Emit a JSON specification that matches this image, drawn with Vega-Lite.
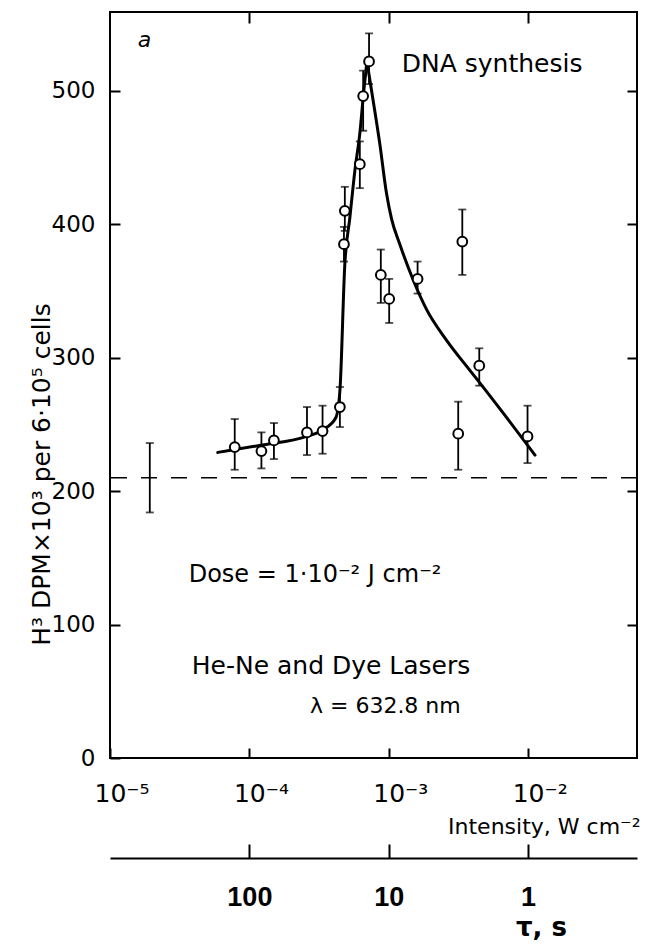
{
  "$schema": "https://vega.github.io/schema/vega-lite/v6.json",
  "width": 527,
  "height": 746,
  "autosize": "none",
  "padding": {"left": 110, "top": 12, "right": 17, "bottom": 189},
  "background": "white",
  "config": {
    "view": {"stroke": "black", "strokeWidth": 2},
    "font": "DejaVu Sans"
  },
  "datasets": {
    "pts": [
      {"I": 0.0000193, "v": 210, "lo": 184, "hi": 236, "kind": "control"},
      {"I": 0.0000785, "v": 233, "lo": 216, "hi": 254, "kind": "sample"},
      {"I": 0.000122, "v": 230, "lo": 217, "hi": 244, "kind": "sample"},
      {"I": 0.00015, "v": 238, "lo": 224, "hi": 251, "kind": "sample"},
      {"I": 0.000259, "v": 244, "lo": 227, "hi": 263, "kind": "sample"},
      {"I": 0.000335, "v": 245, "lo": 228, "hi": 264, "kind": "sample"},
      {"I": 0.000446, "v": 263, "lo": 248, "hi": 278, "kind": "sample"},
      {"I": 0.000484, "v": 410, "lo": 395, "hi": 428, "kind": "sample"},
      {"I": 0.000477, "v": 385, "lo": 372, "hi": 398, "kind": "sample"},
      {"I": 0.00062, "v": 445, "lo": 427, "hi": 462, "kind": "sample"},
      {"I": 0.000655, "v": 496, "lo": 470, "hi": 515, "kind": "sample"},
      {"I": 0.000722, "v": 522, "lo": 505, "hi": 543, "kind": "sample"},
      {"I": 0.000877, "v": 362, "lo": 341, "hi": 381, "kind": "sample"},
      {"I": 0.001007, "v": 344, "lo": 326, "hi": 359, "kind": "sample"},
      {"I": 0.00161, "v": 359, "lo": 348, "hi": 372, "kind": "sample"},
      {"I": 0.00337, "v": 387, "lo": 362, "hi": 411, "kind": "sample"},
      {"I": 0.00446, "v": 294, "lo": 279, "hi": 307, "kind": "sample"},
      {"I": 0.00315, "v": 243, "lo": 216, "hi": 267, "kind": "sample"},
      {"I": 0.0099, "v": 241, "lo": 221, "hi": 264, "kind": "sample"}
    ],
    "curve": [
      {"I": 0.0000593, "v": 229, "seg": "rise"},
      {"I": 0.000123, "v": 234.5, "seg": "rise"},
      {"I": 0.000258, "v": 241, "seg": "rise"},
      {"I": 0.000337, "v": 246, "seg": "rise"},
      {"I": 0.000417, "v": 255, "seg": "rise"},
      {"I": 0.000446, "v": 275, "seg": "rise"},
      {"I": 0.000484, "v": 370, "seg": "rise"},
      {"I": 0.000526, "v": 405, "seg": "rise"},
      {"I": 0.000571, "v": 440, "seg": "rise"},
      {"I": 0.00062, "v": 468, "seg": "rise"},
      {"I": 0.000662, "v": 500, "seg": "rise"},
      {"I": 0.000697, "v": 522, "seg": "rise"},
      {"I": 0.000697, "v": 522, "seg": "fall"},
      {"I": 0.000753, "v": 500, "seg": "fall"},
      {"I": 0.000863, "v": 460, "seg": "fall"},
      {"I": 0.000964, "v": 423, "seg": "fall"},
      {"I": 0.001047, "v": 404, "seg": "fall"},
      {"I": 0.0012, "v": 385, "seg": "fall"},
      {"I": 0.0015, "v": 358, "seg": "fall"},
      {"I": 0.00187, "v": 336, "seg": "fall"},
      {"I": 0.0026, "v": 313, "seg": "fall"},
      {"I": 0.00382, "v": 290.5, "seg": "fall"},
      {"I": 0.00504, "v": 274.5, "seg": "fall"},
      {"I": 0.00702, "v": 255, "seg": "fall"},
      {"I": 0.0112, "v": 227, "seg": "fall"}
    ],
    "one": [{}]
  },
  "layer": [
    {
      "data": {"name": "one"},
      "mark": {"type": "rule", "strokeDash": [16, 14], "strokeWidth": 1.5, "color": "black"},
      "encoding": {
        "y": {"datum": 210, "type": "quantitative", "scale": {"domain": [0, 559], "nice": false, "zero": false}, "axis": null}
      }
    },
    {
      "data": {"name": "curve"},
      "mark": {"type": "line", "color": "black", "strokeWidth": 3, "strokeCap": "round", "strokeJoin": "round", "interpolate": "monotone"},
      "encoding": {
        "x": {"field": "I", "type": "quantitative", "scale": {"type": "log", "domain": [0.00001, 0.0604], "nice": false}, "axis": null},
        "y": {"field": "v", "type": "quantitative", "scale": {"domain": [0, 559], "nice": false, "zero": false}, "axis": null},
        "detail": {"field": "seg", "type": "nominal"}
      }
    },
    {
      "data": {"name": "pts"},
      "mark": {"type": "rule", "color": "black", "strokeWidth": 1.8},
      "encoding": {
        "x": {"field": "I", "type": "quantitative", "scale": {"type": "log", "domain": [0.00001, 0.0604], "nice": false}, "axis": null},
        "y": {"field": "lo", "type": "quantitative", "scale": {"domain": [0, 559], "nice": false, "zero": false}, "axis": null},
        "y2": {"field": "hi"}
      }
    },
    {
      "data": {"name": "pts"},
      "mark": {"type": "tick", "orient": "horizontal", "color": "black", "size": 8, "thickness": 1.8},
      "encoding": {
        "x": {"field": "I", "type": "quantitative", "scale": {"type": "log", "domain": [0.00001, 0.0604], "nice": false}, "axis": null},
        "y": {"field": "hi", "type": "quantitative", "scale": {"domain": [0, 559], "nice": false, "zero": false}, "axis": null}
      }
    },
    {
      "data": {"name": "pts"},
      "mark": {"type": "tick", "orient": "horizontal", "color": "black", "size": 8, "thickness": 1.8},
      "encoding": {
        "x": {"field": "I", "type": "quantitative", "scale": {"type": "log", "domain": [0.00001, 0.0604], "nice": false}, "axis": null},
        "y": {"field": "lo", "type": "quantitative", "scale": {"domain": [0, 559], "nice": false, "zero": false}, "axis": null}
      }
    },
    {
      "data": {"name": "pts"},
      "transform": [{"filter": "datum.kind === 'sample'"}],
      "mark": {"type": "point", "shape": "circle", "filled": false, "fill": "white", "fillOpacity": 1, "stroke": "black", "strokeWidth": 2, "size": 95, "opacity": 1},
      "encoding": {
        "x": {
          "field": "I", "type": "quantitative",
          "scale": {"type": "log", "domain": [0.00001, 0.0604], "nice": false},
          "axis": {
            "orient": "bottom",
            "values": [0.00001, 0.0001, 0.001, 0.01],
            "labelExpr": "'10' + (datum.value < 0.00005 ? '⁻⁵' : datum.value < 0.0005 ? '⁻⁴' : datum.value < 0.005 ? '⁻³' : '⁻²')",
            "domain": false,
            "grid": false,
            "tickSize": -10,
            "tickWidth": 2,
            "tickColor": "black",
            "labelColor": "black",
            "labelFont": "DejaVu Sans",
            "labelFontSize": 25,
            "labelAlign": "left",
            "labelOffset": -16,
            "labelBaseline": "alphabetic",
            "labelPadding": 53,
            "labelFlush": false,
            "labelOverlap": false,
            "labelBound": false,
            "title": "Intensity, W cm⁻²",
            "titleFont": "DejaVu Sans",
            "titleFontSize": 22,
            "titleFontWeight": "normal",
            "titleColor": "black",
            "titleAlign": "right",
            "titleBaseline": "alphabetic",
            "titleX": 530,
            "titleY": 75
          }
        },
        "y": {
          "field": "v", "type": "quantitative",
          "scale": {"domain": [0, 559], "nice": false, "zero": false},
          "axis": {
            "orient": "left",
            "values": [0, 100, 200, 300, 400, 500],
            "domain": false,
            "grid": false,
            "tickSize": -10,
            "tickWidth": 2,
            "tickColor": "black",
            "labelColor": "black",
            "labelFont": "DejaVu Sans",
            "labelFontSize": 23,
            "labelPadding": 25,
            "labelOverlap": false,
            "labelBound": false,
            "labelFlush": false,
            "title": "H³ DPM×10³ per 6·10⁵ cells",
            "titleFont": "DejaVu Sans",
            "titleFontSize": 25,
            "titleFontWeight": "normal",
            "titleColor": "black",
            "titleAngle": 270,
            "titleAlign": "center",
            "titleBaseline": "middle",
            "titleX": -69,
            "titleY": 462
          }
        }
      }
    },
    {
      "data": {"name": "one"},
      "mark": {"type": "text", "font": "DejaVu Sans", "fontStyle": "italic", "fontSize": 22, "align": "left", "baseline": "alphabetic", "color": "black"},
      "encoding": {
        "x": {"datum": 0.0000158, "type": "quantitative", "scale": {"type": "log", "domain": [0.00001, 0.0604], "nice": false}, "axis": null},
        "y": {"datum": 533, "type": "quantitative", "scale": {"domain": [0, 559], "nice": false, "zero": false}, "axis": null},
        "text": {"value": "a"}
      }
    },
    {
      "data": {"name": "one"},
      "mark": {"type": "text", "font": "DejaVu Sans", "fontSize": 25, "align": "left", "baseline": "alphabetic", "color": "black"},
      "encoding": {
        "x": {"datum": 0.00124, "type": "quantitative", "scale": {"type": "log", "domain": [0.00001, 0.0604], "nice": false}, "axis": null},
        "y": {"datum": 514, "type": "quantitative", "scale": {"domain": [0, 559], "nice": false, "zero": false}, "axis": null},
        "text": {"value": "DNA synthesis"}
      }
    },
    {
      "data": {"name": "one"},
      "mark": {"type": "text", "font": "DejaVu Sans", "fontSize": 24, "align": "left", "baseline": "alphabetic", "color": "black"},
      "encoding": {
        "x": {"datum": 0.0000367, "type": "quantitative", "scale": {"type": "log", "domain": [0.00001, 0.0604], "nice": false}, "axis": null},
        "y": {"datum": 132, "type": "quantitative", "scale": {"domain": [0, 559], "nice": false, "zero": false}, "axis": null},
        "text": {"value": "Dose = 1·10⁻² J cm⁻²"}
      }
    },
    {
      "data": {"name": "one"},
      "mark": {"type": "text", "font": "DejaVu Sans", "fontSize": 25, "align": "left", "baseline": "alphabetic", "color": "black"},
      "encoding": {
        "x": {"datum": 0.0000386, "type": "quantitative", "scale": {"type": "log", "domain": [0.00001, 0.0604], "nice": false}, "axis": null},
        "y": {"datum": 63, "type": "quantitative", "scale": {"domain": [0, 559], "nice": false, "zero": false}, "axis": null},
        "text": {"value": "He-Ne and Dye Lasers"}
      }
    },
    {
      "data": {"name": "one"},
      "mark": {"type": "text", "font": "DejaVu Sans", "fontSize": 22, "align": "left", "baseline": "alphabetic", "color": "black"},
      "encoding": {
        "x": {"datum": 0.000272, "type": "quantitative", "scale": {"type": "log", "domain": [0.00001, 0.0604], "nice": false}, "axis": null},
        "y": {"datum": 34, "type": "quantitative", "scale": {"domain": [0, 559], "nice": false, "zero": false}, "axis": null},
        "text": {"value": "λ = 632.8 nm"}
      }
    },
    {
      "data": {"name": "pts"},
      "mark": {"type": "point", "opacity": 0},
      "encoding": {
        "x": {
          "field": "I", "type": "quantitative",
          "scale": {"type": "log", "domain": [0.00001, 0.0604], "nice": false},
          "axis": {"orient": "top", "values": [0.0001, 0.001, 0.01], "labels": false, "domain": false, "grid": false, "tickSize": -11, "tickWidth": 2, "tickColor": "black", "title": null}
        },
        "y": {
          "field": "v", "type": "quantitative",
          "scale": {"domain": [0, 559], "nice": false, "zero": false},
          "axis": {"orient": "right", "values": [100, 200, 300, 400, 500], "labels": false, "domain": false, "grid": false, "tickSize": -10, "tickWidth": 2, "tickColor": "black", "title": null}
        }
      }
    },
    {
      "data": {"name": "pts"},
      "mark": {"type": "point", "opacity": 0},
      "encoding": {
        "x": {
          "field": "I", "type": "quantitative",
          "scale": {"type": "log", "domain": [0.00001, 0.0604], "nice": false},
          "axis": {
            "orient": "bottom",
            "offset": 100,
            "values": [0.0001, 0.001, 0.01],
            "labelExpr": "'' + round(0.01 / datum.value)",
            "domain": true,
            "domainColor": "black",
            "domainWidth": 2,
            "grid": false,
            "tickSize": -14,
            "tickWidth": 2,
            "tickColor": "black",
            "labelColor": "black",
            "labelFont": "Liberation Sans",
            "labelFontSize": 27,
            "labelFontWeight": "bold",
            "labelBaseline": "alphabetic",
            "labelPadding": 61,
            "labelFlush": false,
            "labelOverlap": false,
            "labelBound": false,
            "title": "τ, s",
            "titleFont": "DejaVu Sans",
            "titleFontSize": 26,
            "titleFontWeight": "bold",
            "titleColor": "black",
            "titleAlign": "center",
            "titleBaseline": "alphabetic",
            "titleX": 431,
            "titleY": 77
          }
        },
        "y": {"field": "v", "type": "quantitative", "scale": {"domain": [0, 559], "nice": false, "zero": false}, "axis": null}
      }
    }
  ],
  "resolve": {"axis": {"x": "independent", "y": "independent"}}
}
